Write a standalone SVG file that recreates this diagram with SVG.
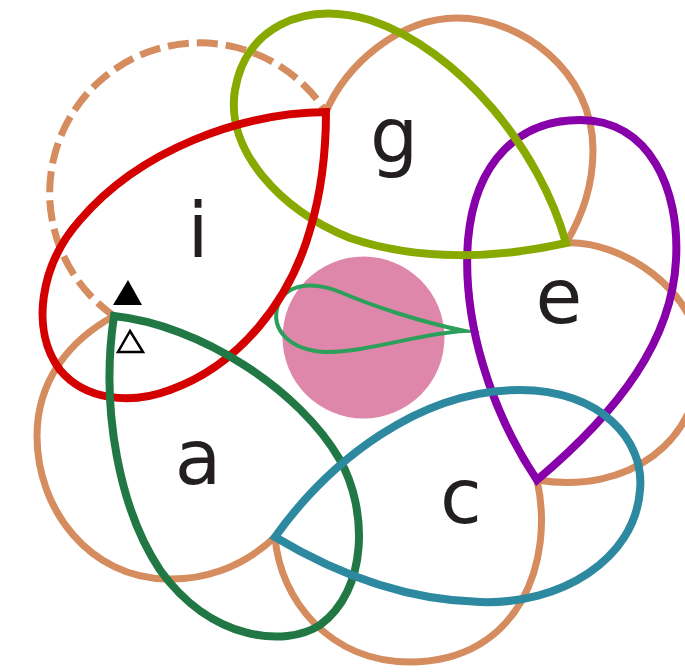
<svg xmlns="http://www.w3.org/2000/svg" width="685" height="672" viewBox="0 0 685 672">
<style>
.o{fill:none;stroke:#d58c5e;stroke-width:7;stroke-linejoin:miter}
.t{fill:none;stroke-width:8;stroke-linejoin:miter;stroke-miterlimit:20}
.lbl{font-family:"DejaVu Sans",sans-serif;font-size:76px;fill:#231f20;text-anchor:middle}
</style>
<rect width="685" height="672" fill="#ffffff"/>
<g id="center">
<circle cx="363.5" cy="337.5" r="81" fill="#de87aa"/>
<path d="M465,331 C420,322 370,305 340,292 C310,280 285,285 278,305 C270,330 290,350 325,352 C370,352 420,333 465,331 Z" fill="none" stroke="#2ca05a" stroke-width="4" stroke-linejoin="miter" stroke-miterlimit="30"/>
</g>
<g id="connectors">
<path class="o" d="M326,112 C345,65 400,18 457,18 C520,18 593,70 593,150 C593,190 580,220 566,243"/>
<path class="o" d="M566,243 C620,240 700,290 700,360 C700,440 630,495 537,480"/>
<path class="o" d="M537,480 C555,560 520,662 410,662 C330,662 280,600 275,537"/>
<path class="o" d="M275,537 C240,570 200,580 167,579 C90,578 37,510 37,436 C37,380 70,340 114,316"/>
<path class="o" d="M114,316 A150,150 0 1 1 326,112" stroke-dasharray="21 8"/>
</g>
<g id="node-e">
<path class="t" stroke="#8800aa" d="M537,480 C490,410 462,320 468,240 C475,160 520,120 580,120 C650,120 680,190 676,260 C672,340 620,410 537,480 Z"/>
<text class="lbl" x="559" y="323">e</text>
</g>
<g id="node-g">
<path class="t" stroke="#88aa00" d="M566,243 C540,150 460,50 370,20 C300,0 245,30 235,90 C225,150 280,210 350,238 C420,262 500,258 566,243 Z"/>
<text class="lbl" x="394" y="162">g</text>
</g>
<g id="node-i">
<path class="t" stroke="#d40000" d="M326,112 C240,113 140,150 80,220 C40,265 30,330 60,370 C85,400 130,405 170,390 C240,365 290,300 310,230 C322,190 326,150 326,112 Z"/>
<text class="lbl" x="198" y="257">i</text>
</g>
<g id="node-a">
<path class="t" stroke="#217844" d="M114,316 C200,325 300,390 340,460 C368,510 368,590 320,625 C285,648 210,640 160,570 C120,510 100,410 114,316 Z"/>
<text class="lbl" x="198" y="484">a</text>
</g>
<g id="node-c">
<path class="t" stroke="#2c89a0" d="M275,537 C330,460 420,390 520,390 C600,390 645,440 640,490 C635,560 560,605 480,602 C400,600 330,570 275,537 Z"/>
<text class="lbl" x="461" y="523">c</text>
</g>
<g id="markers">
<polygon points="128,280 113,305 142,305" fill="#000000"/>
<polygon points="130,331 118,352 143,352" fill="none" stroke="#000000" stroke-width="2.5"/>
</g>
</svg>
